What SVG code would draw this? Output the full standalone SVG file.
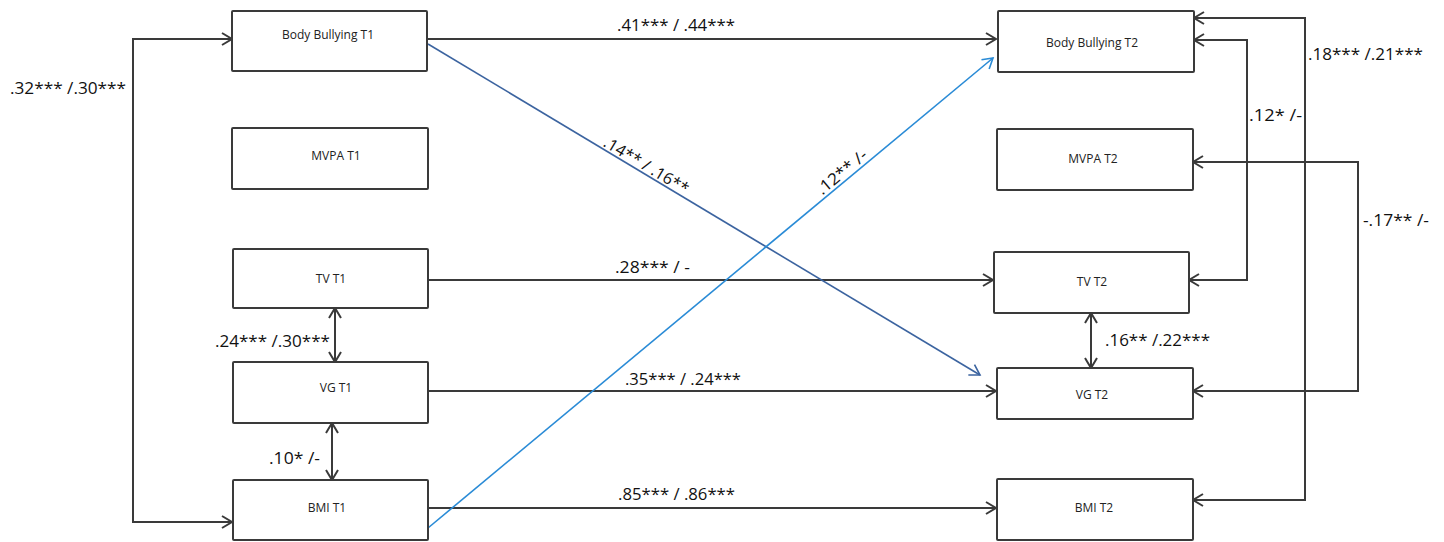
<svg xmlns="http://www.w3.org/2000/svg" width="1444" height="542" viewBox="0 0 1444 542">
<style>
.box{fill:#fff;stroke:#3a3a3a;stroke-width:2}
.nt{font-family:"Open Sans","Liberation Sans",sans-serif;font-size:12px;fill:#222;text-anchor:middle}
.lb{font-family:"Open Sans","Liberation Sans",sans-serif;font-size:16px;fill:#111}
.ln{fill:none;stroke:#3a3a3a;stroke-width:2}
.dk{fill:none;stroke:#3c64a0;stroke-width:1.6}
.lt{fill:none;stroke:#2a8bd6;stroke-width:1.6}
</style>
<defs>
<marker id="ah" markerUnits="userSpaceOnUse" markerWidth="14" markerHeight="14" viewBox="0 0 12 14" refX="11" refY="7" orient="auto-start-reverse">
<path d="M1,1 L11,7 L1,13" fill="none" stroke="#3a3a3a" stroke-width="2"/>
</marker>
<marker id="ahd" markerUnits="userSpaceOnUse" markerWidth="14" markerHeight="14" viewBox="0 0 12 14" refX="11" refY="7" orient="auto">
<path d="M1,1 L11,7 L1,13" fill="none" stroke="#3c64a0" stroke-width="1.6"/>
</marker>
<marker id="ahl" markerUnits="userSpaceOnUse" markerWidth="14" markerHeight="14" viewBox="0 0 12 14" refX="11" refY="7" orient="auto">
<path d="M1,1 L11,7 L1,13" fill="none" stroke="#2a8bd6" stroke-width="1.6"/>
</marker>
</defs>
<rect width="1444" height="542" fill="#fff"/>
<g id="connectors">
<path class="ln" d="M232,39 H133 V522 H232" marker-start="url(#ah)" marker-end="url(#ah)"/>
<path class="ln" d="M427,39 H996" marker-end="url(#ah)"/>
<path class="ln" d="M428,280 H993" marker-end="url(#ah)"/>
<path class="ln" d="M428,391 H996" marker-end="url(#ah)"/>
<path class="ln" d="M428,508 H996" marker-end="url(#ah)"/>
<path class="ln" d="M335,308 V362" marker-start="url(#ah)" marker-end="url(#ah)"/>
<path class="ln" d="M332,423 V480" marker-start="url(#ah)" marker-end="url(#ah)"/>
<path class="ln" d="M1091,313 V368" marker-start="url(#ah)" marker-end="url(#ah)"/>
<path class="ln" d="M1194,18 H1305 V500 H1193" marker-start="url(#ah)" marker-end="url(#ah)"/>
<path class="ln" d="M1194,40 H1247 V280 H1189" marker-start="url(#ah)" marker-end="url(#ah)"/>
<path class="ln" d="M1193,162 H1358 V391 H1193" marker-start="url(#ah)" marker-end="url(#ah)"/>
<path class="dk" d="M428,44 L980,375" marker-end="url(#ahd)"/>
<path class="lt" d="M428,528 L993,58" marker-end="url(#ahl)"/>
</g>
<g id="labels">
<text class="lb" x="10" y="94" textLength="116" lengthAdjust="spacingAndGlyphs">.32*** /.30***</text>
<text class="lb" x="617" y="31" textLength="118" lengthAdjust="spacingAndGlyphs">.41*** / .44***</text>
<text class="lb" x="615" y="273" textLength="75" lengthAdjust="spacingAndGlyphs">.28*** / -</text>
<text class="lb" x="625" y="385" textLength="116" lengthAdjust="spacingAndGlyphs">.35*** / .24***</text>
<text class="lb" x="618" y="500" textLength="117" lengthAdjust="spacingAndGlyphs">.85*** / .86***</text>
<text class="lb" x="215" y="347" textLength="115" lengthAdjust="spacingAndGlyphs">.24*** /.30***</text>
<text class="lb" x="269" y="464" textLength="51" lengthAdjust="spacingAndGlyphs">.10* /-</text>
<text class="lb" x="1308" y="60" textLength="115" lengthAdjust="spacingAndGlyphs">.18*** /.21***</text>
<text class="lb" x="1249" y="121" textLength="53" lengthAdjust="spacingAndGlyphs">.12* /-</text>
<text class="lb" x="1363" y="226" textLength="66" lengthAdjust="spacingAndGlyphs">-.17** /-</text>
<text class="lb" x="1105" y="346" textLength="105" lengthAdjust="spacingAndGlyphs">.16** /.22***</text>
<text class="lb" transform="translate(643,171) rotate(30.95)" x="-48" y="-1" textLength="96" lengthAdjust="spacingAndGlyphs">.14** / .16**</text>
<text class="lb" transform="translate(846,177) rotate(-39.76)" x="-30" y="-1" textLength="60" lengthAdjust="spacingAndGlyphs">.12** /-</text>
</g>
<g id="bb1"><rect class="box" x="232" y="11" width="195" height="60" rx="1"/><text class="nt" x="328" y="39">Body Bullying T1</text></g>
<g id="mvpa1"><rect class="box" x="232" y="128" width="196" height="61" rx="1"/><text class="nt" x="336" y="160">MVPA T1</text></g>
<g id="tv1"><rect class="box" x="233" y="249" width="195" height="59" rx="1"/><text class="nt" x="331" y="283">TV T1</text></g>
<g id="vg1"><rect class="box" x="233" y="362" width="195" height="61" rx="1"/><text class="nt" x="336" y="392">VG T1</text></g>
<g id="bmi1"><rect class="box" x="233" y="480" width="195" height="60" rx="1"/><text class="nt" x="327" y="512">BMI T1</text></g>
<g id="bb2"><rect class="box" x="998" y="11" width="196" height="61" rx="1"/><text class="nt" x="1092" y="47">Body Bullying T2</text></g>
<g id="mvpa2"><rect class="box" x="997" y="129" width="196" height="61" rx="1"/><text class="nt" x="1093" y="163">MVPA T2</text></g>
<g id="tv2"><rect class="box" x="994" y="252" width="195" height="61" rx="1"/><text class="nt" x="1092" y="286">TV T2</text></g>
<g id="vg2"><rect class="box" x="997" y="368" width="196" height="51" rx="1"/><text class="nt" x="1092" y="399">VG T2</text></g>
<g id="bmi2"><rect class="box" x="997" y="479" width="196" height="61" rx="1"/><text class="nt" x="1094" y="512">BMI T2</text></g>
</svg>
